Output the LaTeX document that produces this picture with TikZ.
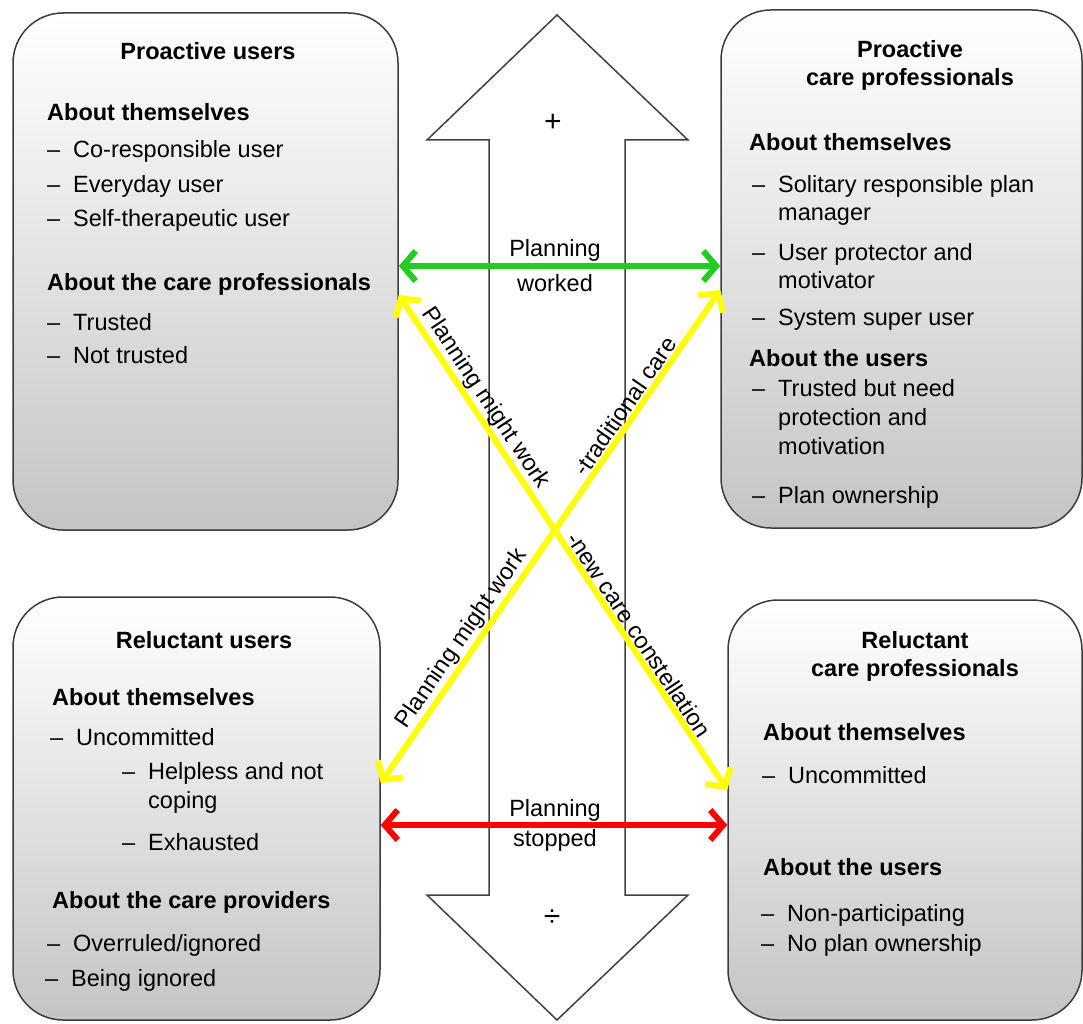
\documentclass[tikz,border=0pt]{standalone}
\usepackage{fontspec}
\setmainfont{Liberation Sans}
\usetikzlibrary{arrows.meta}
\definecolor{boxline}{RGB}{60,60,60}
\definecolor{arrgreen}{RGB}{34,204,34}
\definecolor{arryellow}{RGB}{255,255,0}
\definecolor{arrred}{RGB}{255,0,0}
\newcommand\dsh{\makebox[26pt][l]{–}}
\begin{document}
\begin{tikzpicture}[x=1pt,y=-1pt,
  card/.style={draw=boxline, line width=1.5pt, rounded corners=50pt, top color=white, bottom color=black!23, inner sep=0pt},
  txt/.style={anchor=base west, inner sep=0pt, font=\fontsize{23.5}{28}\selectfont},
  hd/.style={anchor=base west, inner sep=0pt, font=\fontsize{23.5}{28}\selectfont\bfseries},
  ttl/.style={anchor=base, inner sep=0pt, font=\fontsize{23.5}{28}\selectfont\bfseries},
  ctr/.style={anchor=base, inner sep=0pt, font=\fontsize{23.5}{28}\selectfont},
  sym/.style={inner sep=0pt, font=\fontsize{30}{34}\selectfont},
  link/.style={line width=6pt, >={Straight Barb[length=13pt,width=30pt]}, <->},
  lab/.style={font=\fontsize{23.5}{28}\selectfont, inner sep=0.5pt, sloped, above=0.5pt},
  bigarrow/.style={draw=black!75, line width=1.5pt, fill=white}
]
\useasboundingbox (0,0) rectangle (1083,1024);
\clip (0,0) rectangle (1083,1024);

% central double arrow
\draw[bigarrow] (557,15) -- (688,140) -- (625,140) -- (625,895) -- (688,895)
  -- (557,1020) -- (427,895) -- (489,895) -- (489,140) -- (427,140) -- cycle;
\node[sym] (plus) at (553,123) {+};
\node[sym] (div) at (552,918) {÷};

% boxes
\node[card, minimum width=385pt, minimum height=517pt] (tl) at (205.5,271.5) {};
\node[card, minimum width=361pt, minimum height=518pt] (tr) at (901.5,269) {};
\node[card, minimum width=367pt, minimum height=423pt] (bl) at (196.5,808.5) {};
\node[card, minimum width=354pt, minimum height=420pt] (br) at (905,810) {};

% top-left texts
\node[ttl] (tl0) at (208,60) {Proactive users};
\node[hd] (tl1) at (47,121) {About themselves};
\node[txt] (tl2) at (47,158) {\dsh Co-responsible user};
\node[txt] (tl3) at (47,193) {\dsh Everyday user};
\node[txt] (tl4) at (47,227) {\dsh Self-therapeutic user};
\node[hd] (tl5) at (47,290) {About the care professionals};
\node[txt] (tl6) at (47,330) {\dsh Trusted};
\node[txt] (tl7) at (47,363) {\dsh Not trusted};

% top-right texts
\node[ttl] (tr0) at (910,58) {Proactive};
\node[ttl] (tr0b) at (910,86) {care professionals};
\node[hd] (tr1) at (749,151) {About themselves};
\node[txt] (tr2) at (752,193) {\dsh Solitary responsible plan};
\node[txt] (tr2b) at (778,221) {manager};
\node[txt] (tr3) at (752,260) {\dsh User protector and};
\node[txt] (tr3b) at (778,288) {motivator};
\node[txt] (tr4) at (752,325) {\dsh System super user};
\node[hd] (tr5) at (749,366) {About the users};
\node[txt] (tr6) at (752,396) {\dsh Trusted but need};
\node[txt] (tr6b) at (778,425) {protection and};
\node[txt] (tr6c) at (778,454) {motivation};
\node[txt] (tr7) at (752,503) {\dsh Plan ownership};

% bottom-left texts
\node[ttl] (bl0) at (204,648) {Reluctant users};
\node[hd] (bl1) at (52,705) {About themselves};
\node[txt] (bl2) at (50,745) {\dsh Uncommitted};
\node[txt] (bl3) at (122,779) {\dsh Helpless and not};
\node[txt] (bl3b) at (148,808) {coping};
\node[txt] (bl4) at (122,850) {\dsh Exhausted};
\node[hd] (bl5) at (52,908) {About the care providers};
\node[txt] (bl6) at (47,951) {\dsh Overruled/ignored};
\node[txt] (bl7) at (45,986) {\dsh Being ignored};

% bottom-right texts
\node[ttl] (br0) at (915,648) {Reluctant};
\node[ttl] (br0b) at (915,676) {care professionals};
\node[hd] (br1) at (763,740) {About themselves};
\node[txt] (br2) at (762,783) {\dsh Uncommitted};
\node[hd] (br3) at (763,875) {About the users};
\node[txt] (br4) at (761,921) {\dsh Non-participating};
\node[txt] (br5) at (761,951) {\dsh No plan ownership};

% connector heights
\coordinate (gy) at (0,266);
\coordinate (ry) at (0,825);
\coordinate (ya1) at (0,295);
\coordinate (ya2) at (0,790);
\coordinate (yb1) at (0,783);
\coordinate (yb2) at (0,290);

% connectors
\draw[link, draw=arrgreen] (tl.east |- gy) -- (tr.west |- gy);
\draw[link, draw=arrred] (bl.east |- ry) -- (br.west |- ry);
\draw[link, draw=arryellow] (tl.east |- ya1) --
  node[lab, pos=0.225] (la1) {Planning might work}
  node[lab, pos=0.70] (la2) {-new care constellation}
  (br.west |- ya2);
\draw[link, draw=arryellow] (bl.east |- yb1) --
  node[lab, pos=0.275] (lb1) {Planning might work}
  node[lab, pos=0.75] (lb2) {-traditional care}
  (tr.west |- yb2);

% horizontal labels
\node[ctr] (g1) at (555,256) {Planning};
\node[ctr] (g2) at (555,291) {worked};
\node[ctr] (r1) at (555,816) {Planning};
\node[ctr] (r2) at (555,846) {stopped};
\end{tikzpicture}
\end{document}
